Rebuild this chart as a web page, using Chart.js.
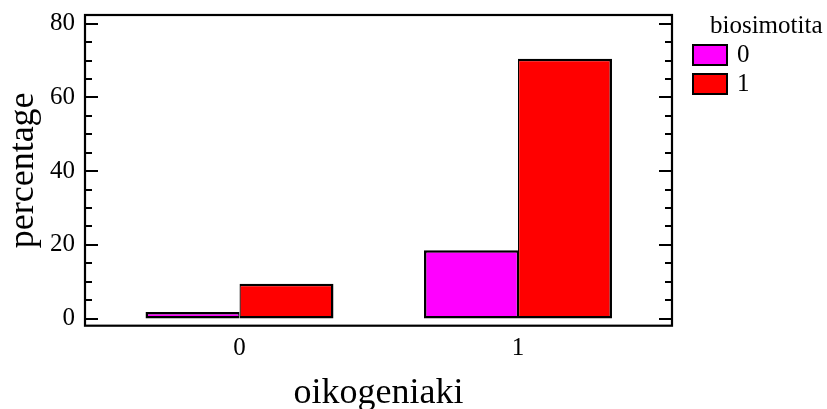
<!DOCTYPE html>
<html><head><meta charset="utf-8">
<script src="https://cdn.jsdelivr.net/npm/chart.js@4"></script>
<style>html,body{margin:0;padding:0;background:#fff}#wrap{width:827px;height:409px;position:relative}</style>
</head><body><div id="wrap"><canvas id="c" width="827" height="409"></canvas></div>
<script>
// ---- data ----
const categories = ['0', '1'];
const categoryPositions = [0, 1];
const seriesNames = ['0', '1'];
const series0 = [1.8, 18.5];   // biosimotita = 0
const series1 = [9.4, 70.5];   // biosimotita = 1
const yTickValues = [0, 20, 40, 60, 80];
const yMinorStep = 5;
const legendTitle = 'biosimotita';
const xTitle = 'oikogeniaki';
const yTitle = 'percentage';

const FONT = "'Liberation Serif', 'Times New Roman', serif";
const colors = ['#FF00FF', '#FF0000'];
Chart.defaults.color = '#000';

function toPoints(vals) { return vals.map((v, i) => ({ x: categoryPositions[i], y: v })); }

const framePlugin = {
  id: 'frame',
  afterDraw(chart) {
    const { ctx, chartArea: a } = chart;
    const y = chart.scales.y;
    ctx.save();
    ctx.strokeStyle = '#000';
    ctx.lineWidth = 2;
    for (let v = 0; v <= 80 + 1e-9; v += yMinorStep) {
      const p = Math.round(y.getPixelForValue(v));
      const major = yTickValues.includes(v);
      const len = major ? 13 : 7;
      ctx.beginPath();
      ctx.moveTo(a.left, p); ctx.lineTo(a.left + len, p);
      ctx.moveTo(a.right, p); ctx.lineTo(a.right - len, p);
      ctx.stroke();
    }
    ctx.lineWidth = 2.2;
    ctx.strokeRect(a.left, a.top, a.right - a.left, a.bottom - a.top);
    // legend
    ctx.fillStyle = '#000';
    ctx.font = '25px ' + FONT;
    ctx.textAlign = 'left';
    ctx.textBaseline = 'alphabetic';
    ctx.fillText(legendTitle, 710, 33);
    chart.data.datasets.forEach((ds, i) => {
      const by = 45 + i * 29;
      ctx.fillStyle = ds.backgroundColor;
      ctx.fillRect(693, by, 34, 20);
      ctx.lineWidth = 2;
      ctx.strokeStyle = '#000';
      ctx.strokeRect(693, by, 34, 20);
      ctx.fillStyle = '#000';
      ctx.fillText(ds.label, 737, by + 17);
    });
    ctx.restore();
  }
};

new Chart(document.getElementById('c'), {
  type: 'bar',
  data: {
    datasets: [
      { label: seriesNames[0], data: toPoints(series0), backgroundColor: colors[0], borderColor: '#000',
        borderWidth: { top: 2.5, left: 2.5, bottom: 2.5, right: 1.25 }, borderSkipped: false },
      { label: seriesNames[1], data: toPoints(series1), backgroundColor: colors[1], borderColor: '#000',
        borderWidth: { top: 2.5, left: 1.25, bottom: 2.5, right: 2.5 }, borderSkipped: false }
    ]
  },
  options: {
    responsive: false,
    animation: false,
    categoryPercentage: 0.675,
    barPercentage: 1,
    layout: { padding: { top: 15, right: 155, bottom: 0, left: 0 } },
    plugins: { legend: { display: false }, tooltip: { enabled: false } },
    scales: {
      x: {
        type: 'linear',
        offset: false,
        min: -0.5548, max: 1.553,
        grid: { display: false, drawTicks: false, offset: false },
        border: { display: false },
        afterBuildTicks: s => { s.ticks = categoryPositions.map(v => ({ value: v })); },
        afterFit: s => { s.height = 83.3; s.paddingLeft = 0; s.paddingRight = 0; },
        ticks: { padding: 8, font: { family: FONT, size: 25 }, color: '#000',
          callback: (v) => categories[categoryPositions.indexOf(v)] ?? '' },
        title: { display: true, text: xTitle, font: { family: FONT, size: 36, lineHeight: 0.86 }, padding: 0, color: '#000' }
      },
      y: {
        min: -1.95, max: 82.36,
        grid: { display: false, drawTicks: false },
        border: { display: false },
        afterBuildTicks: s => { s.ticks = yTickValues.map(v => ({ value: v })); },
        afterFit: s => { s.width = 85; s.paddingTop = 0; s.paddingBottom = 0; },
        ticks: { padding: 10, font: { family: FONT, size: 25 }, color: '#000' },
        title: { display: true, text: yTitle, font: { family: FONT, size: 36, lineHeight: 1.2 }, padding: { top: 2.4, bottom: 0 }, color: '#000' }
      }
    }
  },
  plugins: [framePlugin]
});
</script></body></html>
